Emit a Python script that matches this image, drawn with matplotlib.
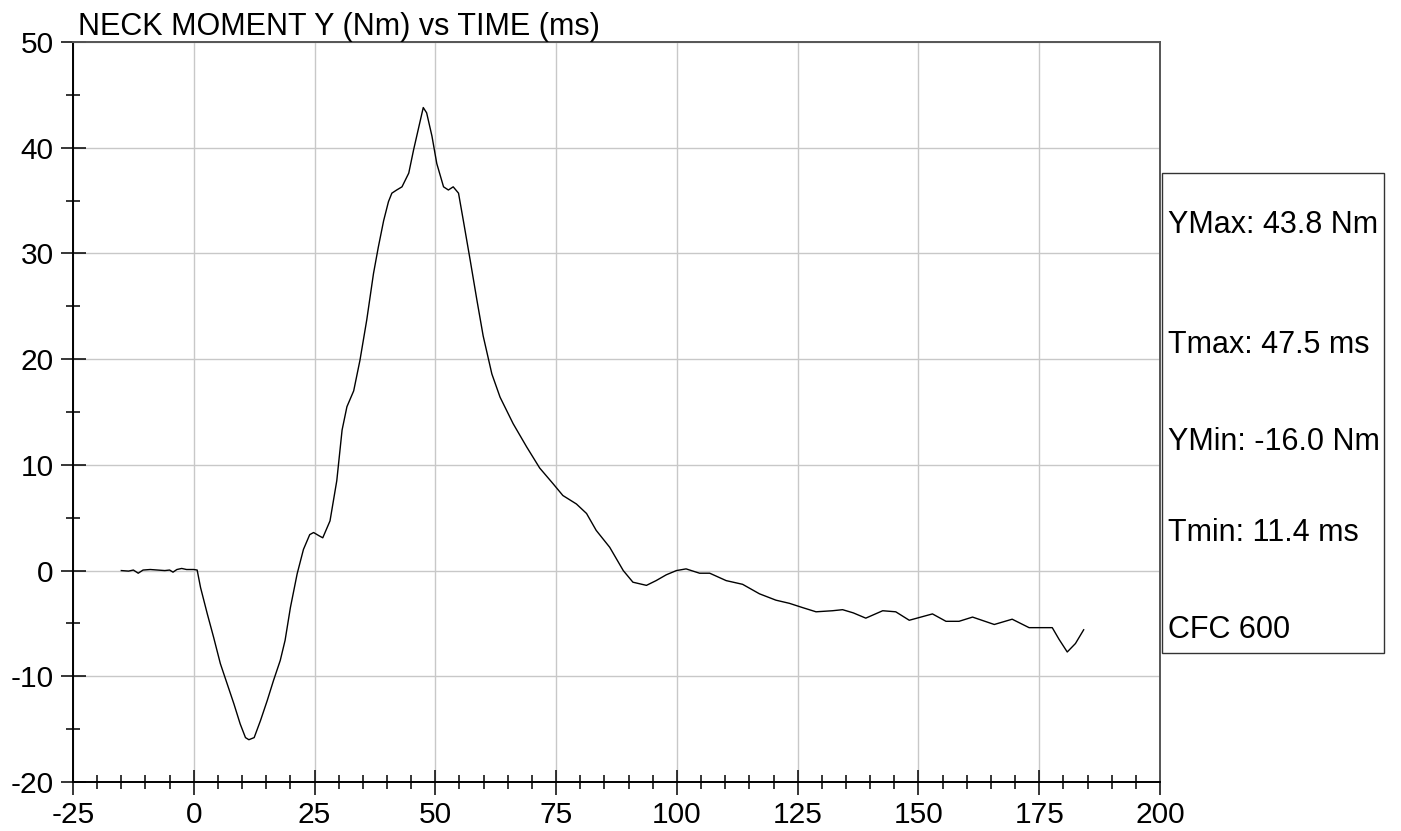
import matplotlib
matplotlib.use("Agg")
import matplotlib.pyplot as plt
from matplotlib.patches import Rectangle
from matplotlib.ticker import MultipleLocator

plt.rcParams['font.family'] = ['Liberation Sans', 'DejaVu Sans']
plt.rcParams['axes.unicode_minus'] = False

title = "NECK MOMENT Y (Nm) vs TIME (ms)"
stats = ["YMax: 43.8 Nm", "Tmax: 47.5 ms", "YMin: -16.0 Nm", "Tmin: 11.4 ms", "CFC 600"]

time_ms = [
    -15.0, -13.5, -12.5, -11.5, -10.5, -9.0, -7.5, -6.0, -5.0, -4.3, -3.5, -2.5, -1.5, 0.0, 0.7,
    1.4, 2.8, 4.1, 5.5, 6.9, 8.3, 9.6, 10.7, 11.4, 12.5, 13.8, 15.2, 16.5, 17.9, 18.9, 20.0,
    21.4, 22.7, 24.0, 24.8, 25.9, 26.7, 28.2, 29.6, 30.7, 31.7, 33.1, 34.4, 35.8, 37.2, 38.2,
    39.3, 40.3, 41.0, 42.0, 43.1, 44.5, 45.5, 46.6, 47.5, 48.2, 49.3, 50.3, 51.7, 52.7, 53.7,
    54.8, 55.8, 57.2, 58.6, 59.9, 61.7, 63.4, 66.1, 68.9, 71.6, 74.4, 76.4, 79.2, 81.3, 83.3,
    86.1, 88.9, 90.9, 93.7, 95.7, 97.8, 99.9, 101.9, 104.7, 106.8, 110.2, 113.6, 117.1, 120.5,
    123.3, 126.0, 128.8, 132.2, 134.3, 136.5, 139.1, 142.6, 145.3, 148.1, 152.9, 155.7, 158.4,
    161.2, 165.7, 169.4, 172.9, 177.7, 179.1, 180.8, 182.5, 184.2,
]
moment_nm = [
    0.0, -0.05, 0.05, -0.25, 0.05, 0.1, 0.05, 0.0, 0.05, -0.15, 0.1, 0.2, 0.1, 0.1, 0.05,
    -1.6, -4.1, -6.3, -8.8, -10.7, -12.6, -14.5, -15.8, -16.0, -15.8, -14.2, -12.3, -10.4, -8.5, -6.6, -3.5,
    -0.3, 2.0, 3.4, 3.6, 3.3, 3.1, 4.7, 8.5, 13.3, 15.5, 17.0, 19.9, 23.7, 28.1, 30.6,
    33.1, 34.9, 35.7, 36.0, 36.3, 37.6, 39.8, 42.0, 43.8, 43.3, 41.1, 38.5, 36.3, 36.0, 36.3,
    35.7, 33.1, 29.4, 25.6, 22.2, 18.6, 16.4, 13.9, 11.7, 9.7, 8.2, 7.1, 6.3, 5.4, 3.8,
    2.2, 0.0, -1.1, -1.4, -0.95, -0.4, 0.0, 0.16, -0.25, -0.25, -0.95, -1.3, -2.2, -2.8,
    -3.1, -3.5, -3.9, -3.8, -3.7, -4.0, -4.5, -3.8, -3.9, -4.7, -4.1, -4.8, -4.8,
    -4.4, -5.1, -4.6, -5.4, -5.4, -6.5, -7.7, -6.9, -5.6,
]

x_ticks = [-25, 0, 25, 50, 75, 100, 125, 150, 175, 200]
y_ticks = [-20, -10, 0, 10, 20, 30, 40, 50]

W, H = 1401, 831
fig = plt.figure(figsize=(W / 100, H / 100), dpi=100)
ax = fig.add_axes([73 / W, 1 - 782 / H, (1160 - 73) / W, (782 - 42) / H])

ax.plot(time_ms, moment_nm, color='black', lw=1.0)
ax.set_xlim(-25, 200)
ax.set_ylim(-20, 50)
ax.set_xticks(x_ticks)
ax.set_yticks(y_ticks)
ax.xaxis.set_minor_locator(MultipleLocator(5))
ax.yaxis.set_minor_locator(MultipleLocator(5))
ax.grid(True, which='major', color='#c8c8c8', lw=1.0)
ax.set_axisbelow(True)
ax.tick_params(which='major', direction='inout', length=18, width=1.1, labelsize=21.5, color='black')
ax.tick_params(which='minor', direction='inout', length=9.5, width=1.1, color='black')
ax.tick_params(axis='y', which='major', pad=5)
ax.tick_params(axis='x', which='major', pad=5)

for s in ['left', 'bottom']:
    ax.spines[s].set_color('black')
    ax.spines[s].set_linewidth(1.4)
for s in ['top', 'right']:
    ax.spines[s].set_color('#555555')
    ax.spines[s].set_linewidth(1.4)

fig.text(78 / W, 1 - 35 / H, title, fontsize=22, ha='left', va='baseline')

box = Rectangle((1162 / W, 1 - 653 / H), (1384 - 1162) / W, (653 - 173) / H,
                transform=fig.transFigure, fill=False, edgecolor='#333333', lw=1.0)
fig.patches.append(box)
ys = [225, 345, 442, 533, 630]
for txt, yp in zip(stats, ys):
    fig.text(1168 / W, 1 - yp / H, txt, fontsize=22, ha='left', va='center')

fig.savefig('out.png', dpi=100)
